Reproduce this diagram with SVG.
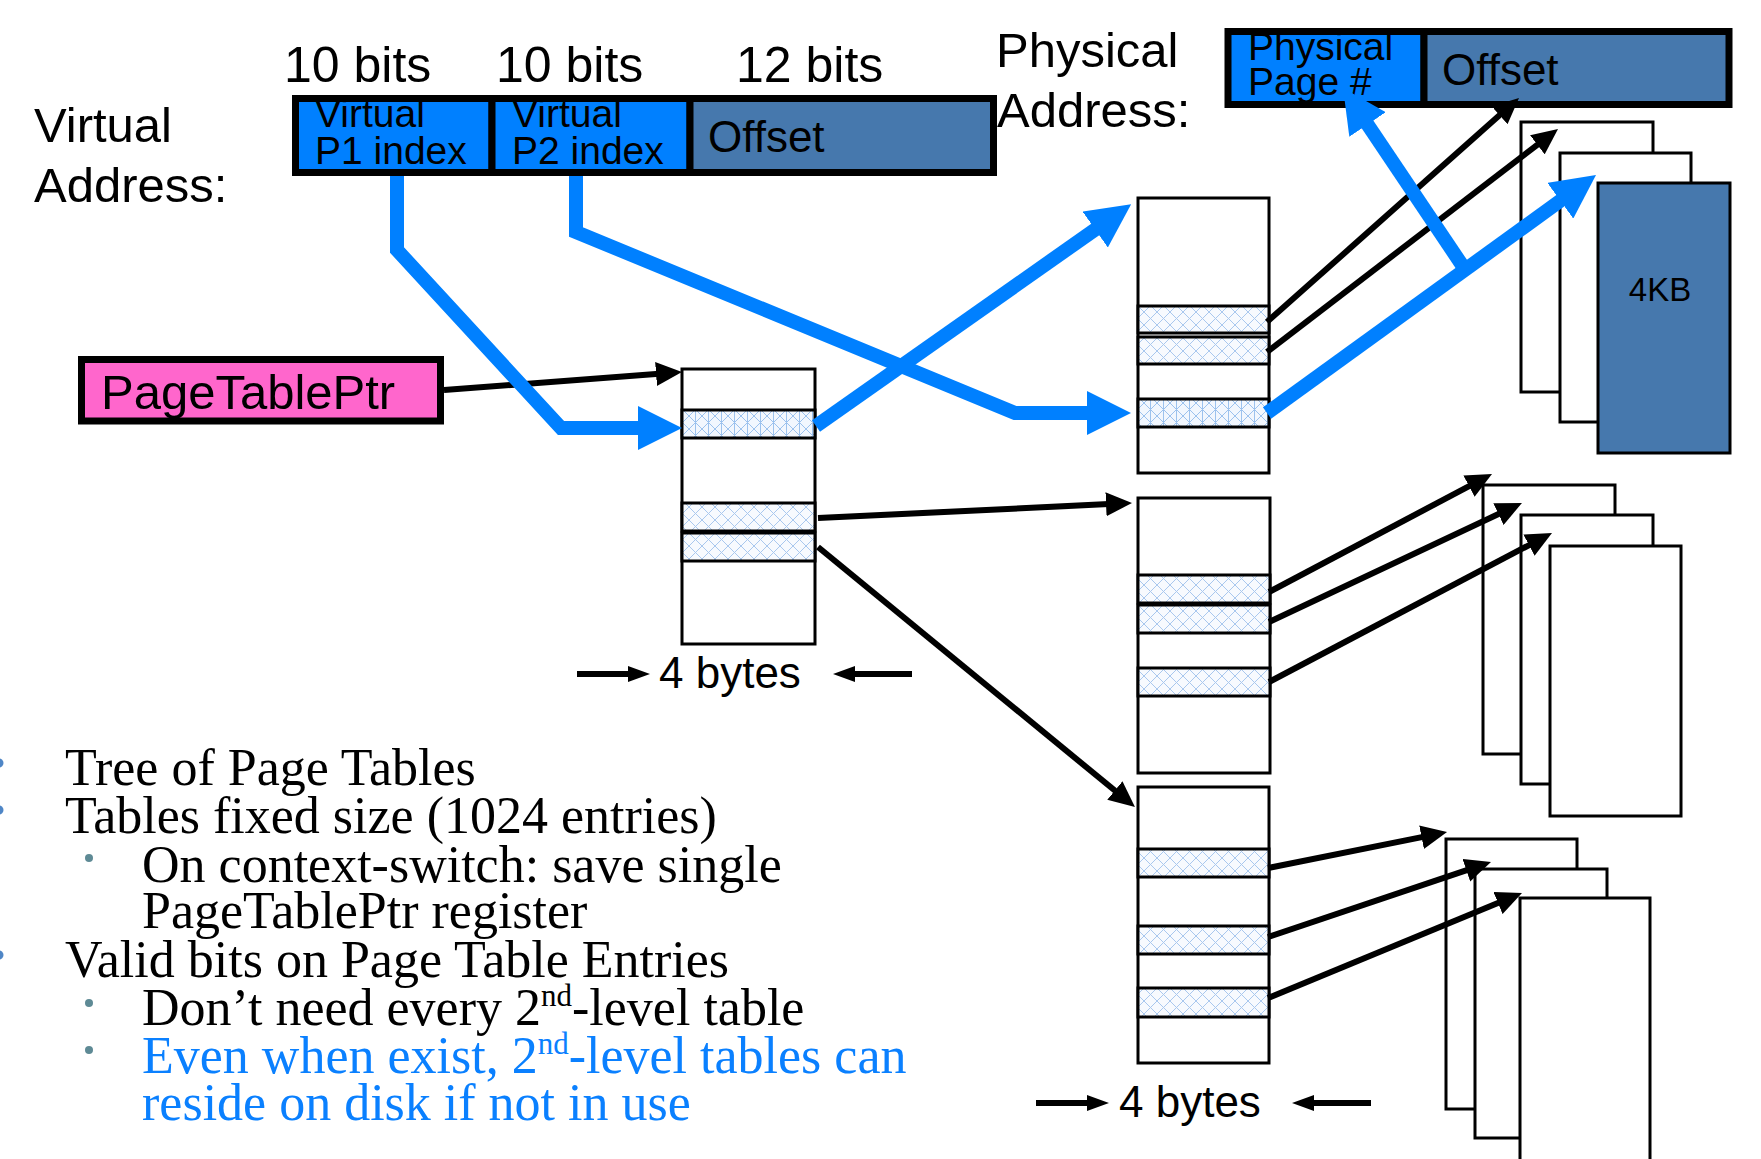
<svg xmlns="http://www.w3.org/2000/svg" width="1761" height="1159" viewBox="0 0 1761 1159">
<style>
.sans{font-family:"Liberation Sans",Arial,sans-serif;fill:#000}
.serif{font-family:"Liberation Serif","Times New Roman",serif;font-size:52px;fill:#000}
.bluetxt{fill:#0A80FF}
.tbl{fill:#fff;stroke:#000;stroke-width:3}
.hr{fill:url(#hatch);stroke:#000;stroke-width:3}
.hr2{fill:url(#hatch2);stroke:#000;stroke-width:3}
.frame{fill:#fff;stroke:#000;stroke-width:3}
.frameb{fill:#4678AD;stroke:#000;stroke-width:3}
.bk{fill:none;stroke:#000;stroke-width:6;marker-end:url(#ah)}
.bks{fill:none;stroke:#000;stroke-width:6;marker-end:url(#ahs)}
.bl{fill:none;stroke:#0080FF;stroke-width:14;stroke-linejoin:miter;marker-end:url(#ahb)}
.fb{fill:#0080FF;stroke:#000;stroke-width:7}
.fo{fill:#4678AD;stroke:#000;stroke-width:7}
.b1{fill:#4F86C6}
.b2{fill:#5E8A95}
</style>
<defs>
<pattern id="hatch" patternUnits="userSpaceOnUse" width="13" height="13">
<rect width="13" height="13" fill="#F7FAFE"/>
<path d="M0,0 L13,13 M13,0 L0,13" stroke="#A9C8EE" stroke-width="1"/>
</pattern>
<pattern id="hatch2" patternUnits="userSpaceOnUse" width="13" height="13">
<rect width="13" height="13" fill="#F2F7FE"/>
<path d="M0,0 L13,13 M13,0 L0,13 M6.5,0 V13" stroke="#9CC2EE" stroke-width="1"/>
</pattern>
<marker id="ah" markerUnits="userSpaceOnUse" markerWidth="26" markerHeight="24" viewBox="0 0 26 24" refX="13" refY="12" orient="auto"><path d="M0,0 L26,12 L0,24 z" fill="#000"/></marker>
<marker id="ahs" markerUnits="userSpaceOnUse" markerWidth="22" markerHeight="16" viewBox="0 0 22 16" refX="10" refY="8" orient="auto"><path d="M0,0 L22,8 L0,16 z" fill="#000"/></marker>
<marker id="ahb" markerUnits="userSpaceOnUse" markerWidth="44" markerHeight="44" viewBox="0 0 44 44" refX="24" refY="22" orient="auto"><path d="M0,0 L44,22 L0,44 z" fill="#0080FF"/></marker>
</defs>
<rect width="1761" height="1159" fill="#fff"/>

<g id="virtual-address-label">
<text class="sans" x="34" y="142" font-size="49">Virtual</text>
<text class="sans" x="34" y="202" font-size="49">Address:</text>
</g>
<g id="bit-labels">
<text class="sans" x="284" y="82" font-size="50">10 bits</text>
<text class="sans" x="496" y="82" font-size="50">10 bits</text>
<text class="sans" x="736" y="82" font-size="50">12 bits</text>
</g>
<g id="virtual-address">
<rect class="fb" x="295.5" y="98.5" width="196.5" height="74"/>
<rect class="fb" x="492" y="98.5" width="198" height="74"/>
<rect class="fo" x="690" y="98.5" width="303.5" height="74"/>
<text class="sans" x="315" y="127" font-size="39">Virtual</text>
<text class="sans" x="315" y="164" font-size="39">P1 index</text>
<text class="sans" x="512" y="127" font-size="39">Virtual</text>
<text class="sans" x="512" y="164" font-size="39">P2 index</text>
<text class="sans" x="708" y="152" font-size="44">Offset</text>
</g>
<g id="physical-address-label">
<text class="sans" x="996" y="67" font-size="49">Physical</text>
<text class="sans" x="997" y="127" font-size="49">Address:</text>
</g>
<g id="physical-address">
<rect class="fb" x="1228" y="31.5" width="196" height="73"/>
<rect class="fo" x="1424" y="31.5" width="305" height="73"/>
<text class="sans" x="1248" y="60" font-size="39">Physical</text>
<text class="sans" x="1248" y="95" font-size="39">Page #</text>
<text class="sans" x="1442" y="85" font-size="44">Offset</text>
</g>
<g id="page-table-ptr">
<rect x="81.5" y="359.5" width="359" height="61.5" fill="#FF66CC" stroke="#000" stroke-width="7"/>
<text class="sans" x="101" y="409" font-size="49">PageTablePtr</text>
</g>
<g id="level1-table">
<rect class="tbl" x="682" y="369" width="133" height="275"/>
<rect class="hr2" x="682" y="410" width="133" height="28"/>
<rect class="hr" x="682" y="503" width="133" height="28"/>
<rect class="hr" x="682" y="533" width="133" height="28"/>
</g>
<g id="level1-width">
<line class="bks" x1="577" y1="674" x2="638" y2="674"/>
<text class="sans" x="659" y="688" font-size="44">4 bytes</text>
<line class="bks" x1="912" y1="674" x2="845" y2="674"/>
</g>
<g id="level2-table-1">
<rect class="tbl" x="1138" y="198" width="131" height="275"/>
<rect class="hr" x="1138" y="306" width="131" height="27"/>
<rect class="hr" x="1138" y="337" width="131" height="27"/>
<rect class="hr2" x="1138" y="399" width="131" height="28"/>
</g>
<g id="level2-table-2">
<rect class="tbl" x="1138" y="498" width="132" height="275"/>
<rect class="hr" x="1138" y="575" width="132" height="28"/>
<rect class="hr" x="1138" y="605" width="132" height="28"/>
<rect class="hr" x="1138" y="668" width="132" height="28"/>
</g>
<g id="level2-table-3">
<rect class="tbl" x="1138" y="787" width="131" height="276"/>
<rect class="hr" x="1138" y="849" width="131" height="28"/>
<rect class="hr" x="1138" y="926" width="131" height="28"/>
<rect class="hr" x="1138" y="988" width="131" height="29"/>
</g>
<g id="level2-width">
<line class="bks" x1="1036" y1="1103" x2="1097" y2="1103"/>
<text class="sans" x="1119" y="1117" font-size="44">4 bytes</text>
<line class="bks" x1="1371" y1="1103" x2="1304" y2="1103"/>
</g>
<g id="frames-1">
<rect class="frame" x="1521" y="122" width="132" height="270"/>
<rect class="frame" x="1560" y="153" width="131" height="269"/>
<rect class="frameb" x="1598" y="183" width="132" height="270"/>
<text class="sans" x="1660" y="301" font-size="33" text-anchor="middle">4KB</text>
</g>
<g id="frames-2">
<rect class="frame" x="1483" y="485" width="132" height="269"/>
<rect class="frame" x="1521" y="515" width="132" height="269"/>
<rect class="frame" x="1550" y="546" width="131" height="270"/>
</g>
<g id="frames-3">
<rect class="frame" x="1446" y="839" width="131" height="270"/>
<rect class="frame" x="1475" y="869" width="132" height="269"/>
<rect class="frame" x="1520" y="898" width="130" height="275"/>
</g>

<g id="connectors">
<line class="bk" x1="444" y1="390" x2="669" y2="373"/>
<line class="bk" x1="818" y1="518" x2="1119" y2="503.6"/>
<line class="bk" x1="818" y1="547" x2="1124.9" y2="798.8"/>
<line class="bk" x1="1267" y1="322" x2="1509.3" y2="106.6"/>
<line class="bk" x1="1267" y1="352" x2="1547.7" y2="136.9"/>
<line class="bk" x1="1269" y1="592" x2="1480.5" y2="480.1"/>
<line class="bk" x1="1269" y1="622" x2="1510.2" y2="508.5"/>
<line class="bk" x1="1269" y1="682" x2="1540.5" y2="539.1"/>
<line class="bk" x1="1268" y1="868" x2="1434.3" y2="834.6"/>
<line class="bk" x1="1268" y1="937" x2="1478.7" y2="866.1"/>
<line class="bk" x1="1268" y1="998" x2="1510" y2="898"/>
<path class="bl" d="M397,176 V250 L561,428 H662"/>
<path class="bl" d="M576,176 V232 L1015,413 H1111"/>
<line class="bl" x1="816" y1="426" x2="1114.8" y2="215.7"/>
<line class="bl" x1="1267" y1="413" x2="1579.8" y2="186.7"/>
<line class="bl" x1="1462" y1="265" x2="1354.2" y2="104.6"/>
</g>

<g id="notes">
<circle class="b1" cx="-1" cy="763" r="4.5"/>
<circle class="b1" cx="-1" cy="810" r="4.5"/>
<circle class="b1" cx="-1" cy="955" r="4.5"/>
<circle class="b2" cx="89" cy="858" r="4"/>
<circle class="b2" cx="89" cy="1003" r="4"/>
<circle class="b2" cx="89" cy="1050" r="4"/>
<text class="serif" x="65" y="785">Tree of Page Tables</text>
<text class="serif" x="65" y="833">Tables fixed size (1024 entries)</text>
<text class="serif" x="142" y="882">On context-switch: save single</text>
<text class="serif" x="142" y="928">PageTablePtr register</text>
<text class="serif" x="65" y="977">Valid bits on Page Table Entries</text>
<text class="serif" x="142" y="1025">Don’t need every 2<tspan font-size="31" dy="-19">nd</tspan><tspan dy="19">-level table</tspan></text>
<text class="serif bluetxt" x="142" y="1073">Even when exist, 2<tspan font-size="31" dy="-19">nd</tspan><tspan dy="19">-level tables can</tspan></text>
<text class="serif bluetxt" x="142" y="1120">reside on disk if not in use</text>
</g>
</svg>
